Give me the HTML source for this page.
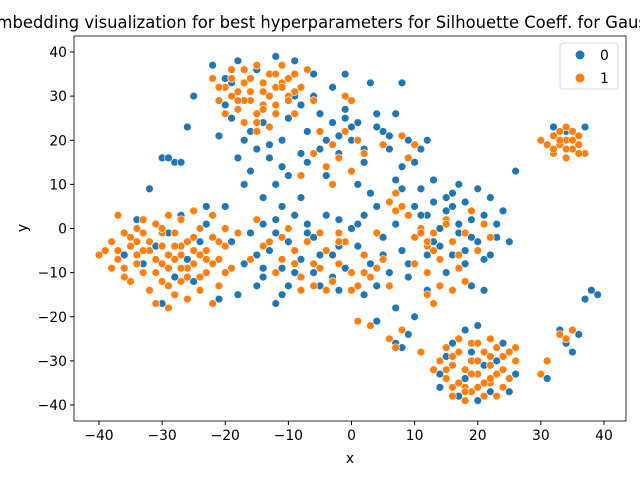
<!DOCTYPE html>
<html><head><meta charset="utf-8"><style>
body{margin:0;background:#fff}
svg{display:block;font-family:"DejaVu Sans","Liberation Sans",sans-serif}
</style></head><body>
<svg id="chart" width="640" height="480" viewBox="0 0 640 480" xmlns="http://www.w3.org/2000/svg">
<text x="339" y="28" font-size="16.4" text-anchor="middle">t-SNE embedding visualization for best hyperparameters for Silhouette Coeff. for GaussianMixture</text>
<g id="marks"></g>
<g id="axes"></g>
<rect x="74" y="36" width="552" height="385" fill="none" stroke="#000" stroke-width="0.8"/>
<text x="350" y="463" font-size="13.9" text-anchor="middle">x</text>
<text x="27" y="228" font-size="13.9" text-anchor="middle" transform="rotate(-90 27 228)">y</text>
<g>
<rect x="560" y="43" width="58" height="46" rx="3" fill="#fff" fill-opacity="0.8" stroke="#ccc" stroke-width="0.8"/>
<circle cx="580" cy="55" r="4.5" fill="#1f77b4"/>
<text x="600" y="60" font-size="13.9">0</text>
<circle cx="580" cy="78" r="4.5" fill="#ff7f0e"/>
<text x="600" y="83" font-size="13.9">1</text>
</g>
</svg>
<script>
const xTicks=[-40,-30,-20,-10,0,10,20,30,40];
const yTicks=[-40,-30,-20,-10,0,10,20,30,40];
const seriesLabels=["0","1"];
const blueX=[-21,-20,-19,-18,-17,-16,-15,-14,-13,-12,-11,-10,-10,-9,-8,-7,-6,-5,-4,-3,-2,-1,0,1,2,3,4,5,6,7,8,9,10,11,12,-12,-14,-18,-20,-25,-26,-30,-28,-6,-3,-1,-15,-9,-19,-22,-4,1,7,8,3,
-34,-32,-30,-28,-27,-26,-25,-23,-21,-19,-18,-36,-31,-29,-24,-20,-17,-33,-16,-15,-14,
-13,-12,-11,-10,-9,-8,-7,-6,-5,-4,-3,-2,-1,0,1,2,3,4,5,6,7,8,-6,-10,-14,2,4,-2,9,-11,
10,11,12,13,14,15,16,17,18,19,20,21,22,23,24,25,26,14,16,18,20,12,15,21,19,17,8,7,9,10,12,
14,15,16,17,18,19,20,21,22,23,24,25,26,18,20,14,23,
32,34,36,37,38,39,37,35,34,31,33,36,-32,-29,-27,3,4,7,8,-12,-14,
-16,-13,-11,-8,-5,-2,0,2,4,6,-7,-4,-1,11,13,15,17,19,21,23,13,16,18,22,-9,-5,-2,1,-12,-8,-17,-23,5,9,-15,-11,-7,-3];
const blueY=[21,34,25,38,20,13,18,24,16,39,20,12,25,38,17,22,30,26,20,24,17,27,20,24,15,33,26,22,18,26,33,20,15,18,20,10,7,16,28,30,23,16,15,35,32,35,36,30,33,37,12,10,11,14,8,
2,9,-17,-11,3,-7,-12,1,-16,-3,-15,-6,-4,-1,-3,5,-8,-8,-1,-6,1,
-5,2,-9,-3,3,-7,1,-2,-13,3,-6,2,-9,0,-4,3,-8,5,-2,-10,1,-5,-10,-13,-9,-15,-13,-14,-11,5,
5,9,3,6,0,4,8,1,6,-2,9,3,-6,1,4,-3,13,-4,-6,-8,-3,-6,-10,-14,-13,10,9,-18,-24,-20,-14,
-36,-29,-26,-38,-34,-28,-39,-31,-37,-33,-26,-37,-33,-23,-22,-33,-30,
23,22,17,23,-14,-15,-16,-28,-26,-34,-23,-24,9,16,15,-22,-21,-26,-27,-17,-11,
22,19,14,28,18,21,23,18,23,21,15,14,25,3,-3,7,-1,2,-7,-2,11,5,-5,7,-10,-6,-4,1,-1,7,10,5,-6,-8,-13,-15,-1,-11];
const orangeX=[-39,-38,-37,-36,-36,-35,-34,-34,-33,-33,-32,-31,-31,-30,-30,-29,-29,-28,-28,-27,-27,-26,-26,-25,-25,-24,-24,-23,-23,-22,-22,-21,-21,-20,-20,-19,-18,-35,-38,-32,-29,-28,-33,-30,-26,-24,-22,-37,-31,-27,
-22,-21,-20,-19,-18,-18,-17,-16,-16,-15,-15,-14,-13,-13,-12,-11,-11,-10,-9,-9,-8,-7,-6,-12,-14,-17,-20,-10,-15,-19,
31,32,32,33,34,34,35,35,36,37,33,36,
14,15,15,16,16,17,17,18,18,19,19,20,20,21,21,22,22,23,23,24,24,25,26,17,13,19,22,26,
34,33,35,30,31,8,7,6,3,1,11,12,13,
-8,-6,-5,-4,-3,-2,-1,0,1,2,3,-9,-11,-13,-10,-7,-15,-12,-16,4,5,6,-2,
9,8,7,10,11,12,13,14,15,16,17,18,19,20,21,22,10,12,7,
-5,-3,-4,-2,-6,0,-1,1,-8,-3,2,5,8,9,10,6,30,-1,0,
-40,-37,-35,-34,-32,-30,-29,-27,-26,-25,-23,-21,-36,-34,-33,-31,-29,-27,-25,-24,-22,-20,-30,-28,
-21,-19,-17,-16,-14,-13,-12,-11,-10,-9,-17,-14,-12,-15,-18,
15,16,18,19,20,21,22,23,24,25,16,18,20,22,
32,33,34,35,36,34,
-8,-6,-4,-2,0,2,4,-5,-9,-11,-14,11,13,15,17,14,12,16,18];
const orangeY=[-5,-3,-7,-1,-9,-4,0,-6,-10,2,-3,-7,1,-12,-4,3,-9,-1,-15,-6,2,-11,-3,-8,4,-14,0,-5,-10,3,-2,-7,-13,0,-4,-9,-1,-12,-9,-14,-18,-7,-1,-8,-16,-6,-17,3,-17,-12,
34,29,32,36,27,31,24,34,29,37,26,31,23,35,28,33,37,30,26,35,32,36,29,32,28,33,26,34,22,30,
19,17,21,19,16,20,18,22,19,17,22,21,
-30,-34,-27,-38,-31,-28,-35,-32,-39,-26,-30,-36,-33,-28,-38,-31,-35,-27,-38,-32,-29,-34,-30,-25,-32,-37,-25,-27,
-25,-24,-23,-33,-30,-23,-27,-25,-22,-21,-28,-15,-17,
-11,-13,-9,-5,-12,-8,-3,-10,-13,-6,-11,-5,-7,-3,0,-3,2,-10,-7,-1,-7,-13,-1,
3,5,8,-2,0,-4,-1,-7,2,-3,-9,-1,4,-5,1,-2,-8,-10,4,
22,19,14,16,17,13,22,20,12,10,17,19,21,16,19,6,20,30,29,
-6,-5,-2,-8,-5,-1,-6,-4,-9,-5,-7,-3,-11,-3,-5,-10,-13,-9,-2,-11,-8,-10,0,-4,
32,34,29,31,33,30,26,32,29,31,36,27,35,24,29,
-32,-29,-36,-33,-30,-35,-29,-33,-36,-28,-36,-37,-26,-34,
18,20,18,20,17,23,
-14,-8,-14,-3,-14,-10,-9,-1,-8,-2,-4,-1,-5,1,-6,-13,-3,-14,-12];
const X0=74,X1=626,Y0=36,Y1=421;
function sx(v){return 351.5+v*6.3125;}
function sy(v){return 228.5-v*4.4125;}
const NS="http://www.w3.org/2000/svg";
const marks=document.getElementById('marks');
const axes=document.getElementById('axes');
function drawSeries(xs,ys,color,name){
  for(let i=0;i<xs.length;i++){
    const c=document.createElementNS(NS,'circle');
    c.setAttribute('cx',sx(xs[i]));c.setAttribute('cy',sy(ys[i]));
    c.setAttribute('r',3.9);c.setAttribute('fill',color);
    c.setAttribute('stroke','#fff');c.setAttribute('stroke-width',0.6);
    
    
    marks.appendChild(c);
  }
}
drawSeries(blueX,blueY,'#1f77b4','point-class-'+seriesLabels[0]);
drawSeries(orangeX,orangeY,'#ff7f0e','point-class-'+seriesLabels[1]);
xTicks.forEach(t=>{
  const x=sx(t);
  const l=document.createElementNS(NS,'line');
  l.setAttribute('x1',x);l.setAttribute('x2',x);l.setAttribute('y1',Y1);l.setAttribute('y2',Y1+4);l.setAttribute('stroke','#000');
  
  
  axes.appendChild(l);
  const tx=document.createElementNS(NS,'text');
  tx.setAttribute('x',x);tx.setAttribute('y',Y1+19);tx.setAttribute('font-size','13.9');tx.setAttribute('text-anchor','middle');
  tx.textContent=t<0?'\u2212'+(-t):String(t);
  
  
  axes.appendChild(tx);
});
yTicks.forEach(t=>{
  const y=sy(t);
  const l=document.createElementNS(NS,'line');
  l.setAttribute('x1',X0-4);l.setAttribute('x2',X0);l.setAttribute('y1',y);l.setAttribute('y2',y);l.setAttribute('stroke','#000');
  
  
  axes.appendChild(l);
  const tx=document.createElementNS(NS,'text');
  tx.setAttribute('x',X0-7);tx.setAttribute('y',y+5);tx.setAttribute('font-size','13.9');tx.setAttribute('text-anchor','end');
  tx.textContent=t<0?'\u2212'+(-t):String(t);
  
  
  axes.appendChild(tx);
});
</script>
</body></html>
